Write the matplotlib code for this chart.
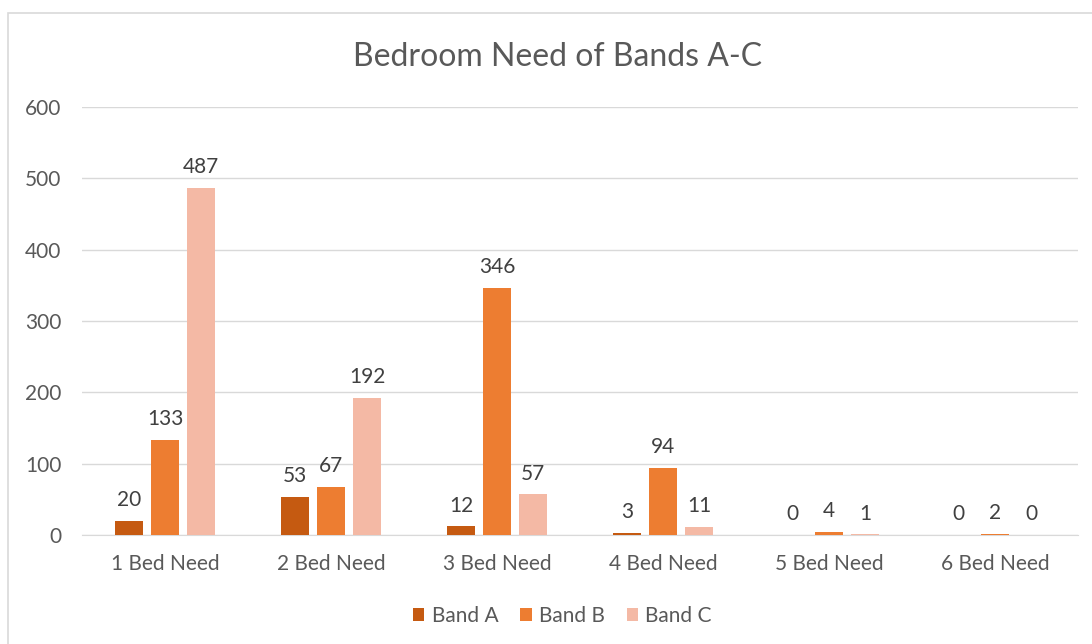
import numpy as np
import matplotlib.pyplot as plt
from matplotlib.patches import Rectangle

plt.rcParams['font.family'] = ['Lato', 'DejaVu Sans']

categories = ['1 Bed Need', '2 Bed Need', '3 Bed Need', '4 Bed Need', '5 Bed Need', '6 Bed Need']
band_a = [20, 53, 12, 3, 0, 0]
band_b = [133, 67, 346, 94, 4, 2]
band_c = [487, 192, 57, 11, 1, 0]
series_names = ['Band A', 'Band B', 'Band C']
colors = ['#C55A11', '#ED7D31', '#F4B9A5']

fig = plt.figure(figsize=(10.92, 6.44), dpi=100)
ax = fig.add_axes([0.0751, 0.1693, 0.912, 0.6646])

x = np.arange(len(categories))
w = 0.172
step = 0.217
for i, (vals, name, c) in enumerate(zip([band_a, band_b, band_c], series_names, colors)):
    pos = x + (i - 1) * step
    bars = ax.bar(pos, vals, width=w, color=c, label=name, zorder=3)
    for p, v in zip(pos, vals):
        ax.text(p, v + 15, str(v), ha='center', va='bottom', fontsize=15, color='#404040')

ax.set_xlim(-0.5, len(categories) - 0.5)
ax.set_ylim(0, 600)
ax.set_yticks(range(0, 601, 100))
ax.set_xticks(x)
ax.set_xticklabels(categories)
ax.grid(axis='y', color='#D9D9D9', linewidth=1, zorder=0)
for s in ['top', 'right', 'left']:
    ax.spines[s].set_visible(False)
ax.spines['bottom'].set_color('#D9D9D9')
ax.tick_params(axis='both', length=0, labelsize=15, colors='#595959')
ax.tick_params(axis='x', pad=14)
ax.tick_params(axis='y', pad=15)

fig.text(0.511, 0.912, 'Bedroom Need of Bands A-C', ha='center', va='center', fontsize=23, color='#595959')

fig.legend(loc='center', bbox_to_anchor=(0.515, 0.044), ncol=3, frameon=False,
           fontsize=15, handlelength=0.55, handleheight=0.55, columnspacing=1.05,
           handletextpad=0.35, labelcolor='#595959')

# chart area border (cropped at right/bottom)
fig.patches.append(Rectangle((8 / 1092, -0.1), 1.2, 1.1 - 13 / 644,
                             transform=fig.transFigure, fill=False,
                             edgecolor='#D9D9D9', linewidth=1.2))

fig.savefig('out.png', dpi=100)
